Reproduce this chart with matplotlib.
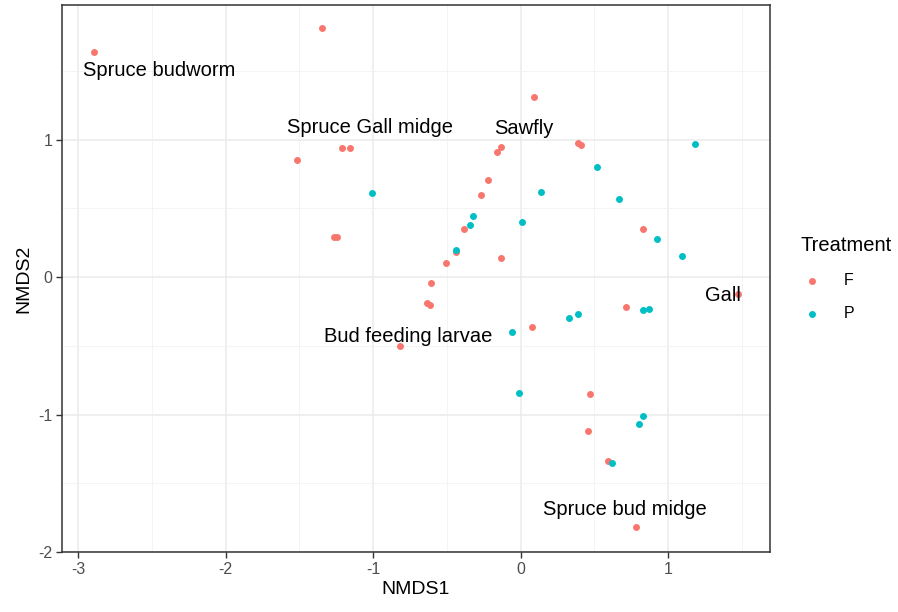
import numpy as np
import matplotlib.pyplot as plt

plt.rcParams['font.family'] = ['Liberation Sans', 'DejaVu Sans']
plt.rcParams['axes.unicode_minus'] = False

# NMDS site scores, treatment F
f_x = [-2.89, -1.345, -1.52, -1.21, -1.16, -1.268, -1.245, 0.088, 0.386, 0.409,
       -0.163, -0.134, -0.22, -0.27, -0.384, 0.83, -0.44, -0.508, -0.134, -0.605,
       -0.637, -0.612, 0.079, -0.816, 0.714, 1.473, 0.47, 0.455, 0.59, 0.78]
f_y = [1.64, 1.81, 0.85, 0.94, 0.94, 0.29, 0.29, 1.31, 0.973, 0.961,
       0.91, 0.95, 0.71, 0.60, 0.35, 0.35, 0.18, 0.10, 0.14, -0.044,
       -0.19, -0.20, -0.36, -0.50, -0.22, -0.124, -0.85, -1.12, -1.34, -1.82]

# NMDS site scores, treatment P
p_x = [-1.01, 0.52, 1.18, 0.136, 0.664, -0.325, -0.346, 0.011, 0.927, -0.44,
       1.09, -0.056, 0.33, 0.389, 0.83, 0.87, -0.009, 0.83, 0.80, 0.62]
p_y = [0.61, 0.80, 0.97, 0.62, 0.57, 0.443, 0.38, 0.40, 0.28, 0.199,
       0.155, -0.40, -0.30, -0.27, -0.24, -0.23, -0.84, -1.01, -1.07, -1.35]

# species scores
species = ['Spruce budworm', 'Spruce Gall midge', 'Sawfly',
           'Bud feeding larvae', 'Spruce bud midge', 'Gall']
sp_x = [-2.448, -1.021, 0.022, -0.764, 0.706, 1.372]
sp_y = [1.515, 1.104, 1.093, -0.421, -1.674, -0.117]

col_f = '#F8766D'
col_p = '#00BFC4'

fig = plt.figure(figsize=(8.98, 6.12), dpi=100)
ax = fig.add_axes([62 / 898, 1 - 552 / 612, 708 / 898, 547 / 612])

ax.scatter(f_x, f_y, s=25, color=col_f, linewidths=0, zorder=3, label='F')
ax.scatter(p_x, p_y, s=25, color=col_p, linewidths=0, zorder=3, label='P')

for name, x, y in zip(species, sp_x, sp_y):
    ax.text(x, y, name, ha='center', va='center_baseline', fontsize=14.5,
            color='black', zorder=4)

ax.set_xlim(-3.11, 1.69)
ax.set_ylim(-2.0, 1.98)
ax.set_xticks([-3, -2, -1, 0, 1])
ax.set_yticks([-2, -1, 0, 1])
ax.set_xticks(np.arange(-2.5, 1.6, 1.0), minor=True)
ax.set_yticks([-1.5, -0.5, 0.5, 1.5], minor=True)

# theme_bw look
ax.grid(which='major', color='#EBEBEB', linewidth=1.1, zorder=0)
ax.grid(which='minor', color='#F2F2F2', linewidth=0.6, zorder=0)
ax.set_axisbelow(True)
for sp in ax.spines.values():
    sp.set_color('#333333')
    sp.set_linewidth(1.1)
ax.tick_params(which='major', direction='out', length=4, width=1,
               color='#333333', labelsize=11.5, labelcolor='#4D4D4D', pad=3)
ax.tick_params(which='minor', length=0)

ax.set_xlabel('NMDS1', fontsize=14, color='black', labelpad=3)
ax.set_ylabel('NMDS2', fontsize=14, color='black', labelpad=4)

leg = ax.legend(title='Treatment', loc='upper left',
                bbox_to_anchor=(786 / 898, 1 - 222 / 612),
                bbox_transform=fig.transFigure, frameon=False,
                fontsize=11.5, title_fontsize=14.5, handletextpad=1.2,
                labelspacing=1.12, markerscale=1.0, handlelength=1.5)
leg._legend_box.align = 'left'

fig.savefig('out.png', dpi=100)
